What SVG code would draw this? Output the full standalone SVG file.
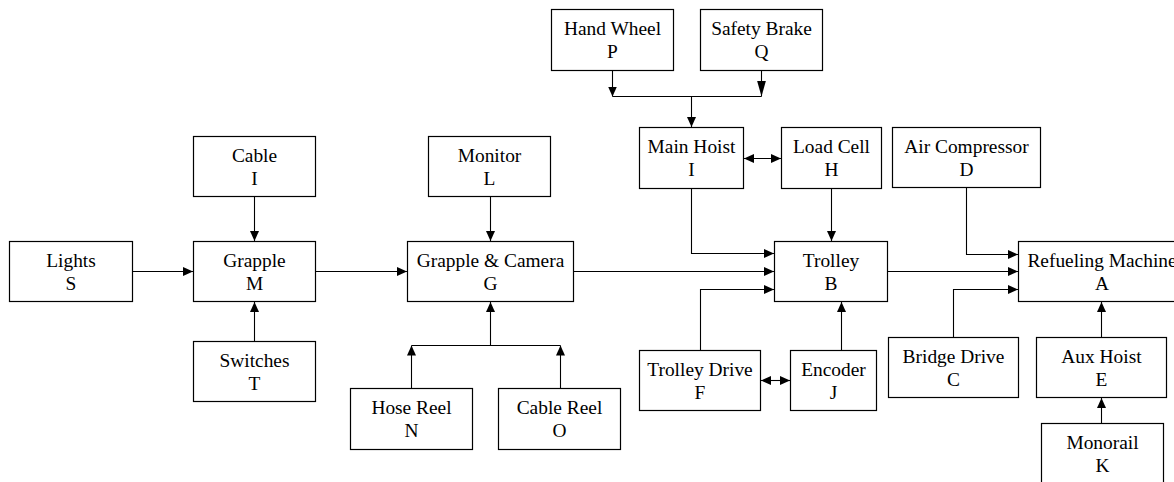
<svg xmlns="http://www.w3.org/2000/svg" width="1174" height="482" viewBox="0 0 1174 482">
<style>
.box{fill:#fff;stroke:#000;stroke-width:1.2}
.t{font-family:"Liberation Serif","Times New Roman",serif;font-size:19.4px;fill:#000;text-anchor:middle}
.c{fill:none;stroke:#000;stroke-width:1.1}
.a{marker-end:url(#ah)}
.d{marker-end:url(#ah);marker-start:url(#ah)}
</style>
<defs>
<marker id="ah" markerUnits="userSpaceOnUse" markerWidth="10" markerHeight="9" refX="10" refY="4.5" orient="auto-start-reverse" viewBox="0 0 10 9">
<path d="M0,0 L10,4.5 L0,9 z" fill="#000"/>
</marker>
<marker id="ahL" markerUnits="userSpaceOnUse" markerWidth="16" markerHeight="9" refX="16" refY="4.5" orient="auto" viewBox="0 0 16 9">
<path d="M0,0 L16,4.5 L0,9 z" fill="#000"/>
</marker>
</defs>
<rect width="1174" height="482" fill="#fff"/>
<g id="connectors">
<path class="c a" d="M132,271.5 H193"/>
<path class="c a" d="M254.5,197 V241"/>
<path class="c a" d="M254.5,341 V302"/>
<path class="c a" d="M316,271.5 H407"/>
<path class="c a" d="M490.5,197 V241"/>
<path class="c a" d="M411.5,388 V345.5"/>
<path class="c a" d="M560.5,388 V345.5"/>
<path class="c" d="M411.5,345.5 H560.5"/>
<path class="c a" d="M490.5,345.5 V302"/>
<path class="c a" d="M574,271.5 H774"/>
<path class="c a" d="M612.5,71 V96.5"/>
<path class="c" d="M761.5,71 V96.5" marker-end="url(#ahL)"/>
<path class="c" d="M612.5,96.5 H761.5"/>
<path class="c a" d="M691.5,96.5 V127"/>
<path class="c d" d="M744,158.5 H781"/>
<path class="c a" d="M691.5,189 V253.5 H774"/>
<path class="c a" d="M831.5,189 V241"/>
<path class="c a" d="M700.5,350 V289.5 H774"/>
<path class="c a" d="M841.5,350 V302"/>
<path class="c d" d="M761,380.5 H790"/>
<path class="c a" d="M888,271.5 H1018"/>
<path class="c a" d="M966.5,188 V254.5 H1018"/>
<path class="c a" d="M953.5,337 V289.5 H1018"/>
<path class="c a" d="M1101.5,337 V302"/>
<path class="c a" d="M1101.5,423 V398"/>
</g>
<g id="node-S"><rect class="box" x="9.5" y="241.5" width="123" height="60"/><text class="t" x="71" y="267">Lights</text><text class="t" x="71" y="289.5">S</text></g>
<g id="node-M"><rect class="box" x="193.5" y="241.5" width="122" height="60"/><text class="t" x="254.5" y="267">Grapple</text><text class="t" x="254.5" y="289.5">M</text></g>
<g id="node-I-cable"><rect class="box" x="193.5" y="136.5" width="122" height="60"/><text class="t" x="254.5" y="162">Cable</text><text class="t" x="254.5" y="184.5">I</text></g>
<g id="node-T"><rect class="box" x="193.5" y="341.5" width="122" height="60"/><text class="t" x="254.5" y="367">Switches</text><text class="t" x="254.5" y="389.5">T</text></g>
<g id="node-L"><rect class="box" x="428.5" y="136.5" width="122" height="60"/><text class="t" x="489.5" y="162">Monitor</text><text class="t" x="489.5" y="184.5">L</text></g>
<g id="node-G"><rect class="box" x="407.5" y="241.5" width="166" height="60"/><text class="t" x="490.5" y="267">Grapple &amp; Camera</text><text class="t" x="490.5" y="289.5">G</text></g>
<g id="node-N"><rect class="box" x="350.5" y="388.5" width="122" height="61"/><text class="t" x="411.5" y="414">Hose Reel</text><text class="t" x="411.5" y="436.5">N</text></g>
<g id="node-O"><rect class="box" x="498.5" y="388.5" width="122" height="61"/><text class="t" x="559.5" y="414">Cable Reel</text><text class="t" x="559.5" y="436.5">O</text></g>
<g id="node-P"><rect class="box" x="551.5" y="9.5" width="122" height="61"/><text class="t" x="612.5" y="35">Hand Wheel</text><text class="t" x="612.5" y="57.5">P</text></g>
<g id="node-Q"><rect class="box" x="700.5" y="9.5" width="122" height="61"/><text class="t" x="761.5" y="35">Safety Brake</text><text class="t" x="761.5" y="57.5">Q</text></g>
<g id="node-I-hoist"><rect class="box" x="639.5" y="127.5" width="104" height="61"/><text class="t" x="691.5" y="153">Main Hoist</text><text class="t" x="691.5" y="175.5">I</text></g>
<g id="node-H"><rect class="box" x="781.5" y="127.5" width="100" height="61"/><text class="t" x="831.5" y="153">Load Cell</text><text class="t" x="831.5" y="175.5">H</text></g>
<g id="node-D"><rect class="box" x="892.5" y="127.5" width="148" height="60"/><text class="t" x="966.5" y="153">Air Compressor</text><text class="t" x="966.5" y="175.5">D</text></g>
<g id="node-B"><rect class="box" x="774.5" y="241.5" width="113" height="60"/><text class="t" x="831" y="267">Trolley</text><text class="t" x="831" y="289.5">B</text></g>
<g id="node-A"><rect class="box" x="1018.5" y="241.5" width="167" height="60"/><text class="t" x="1102" y="267">Refueling Machine</text><text class="t" x="1102" y="289.5">A</text></g>
<g id="node-F"><rect class="box" x="639.5" y="350.5" width="121" height="60"/><text class="t" x="700" y="376">Trolley Drive</text><text class="t" x="700" y="398.5">F</text></g>
<g id="node-J"><rect class="box" x="790.5" y="350.5" width="86" height="60"/><text class="t" x="833.5" y="376">Encoder</text><text class="t" x="833.5" y="398.5">J</text></g>
<g id="node-C"><rect class="box" x="888.5" y="337.5" width="130" height="60"/><text class="t" x="953.5" y="363">Bridge Drive</text><text class="t" x="953.5" y="385.5">C</text></g>
<g id="node-E"><rect class="box" x="1036.5" y="337.5" width="130" height="60"/><text class="t" x="1101.5" y="363">Aux Hoist</text><text class="t" x="1101.5" y="385.5">E</text></g>
<g id="node-K"><rect class="box" x="1041.5" y="423.5" width="122" height="61"/><text class="t" x="1102.5" y="449">Monorail</text><text class="t" x="1102.5" y="471.5">K</text></g>
</svg>
